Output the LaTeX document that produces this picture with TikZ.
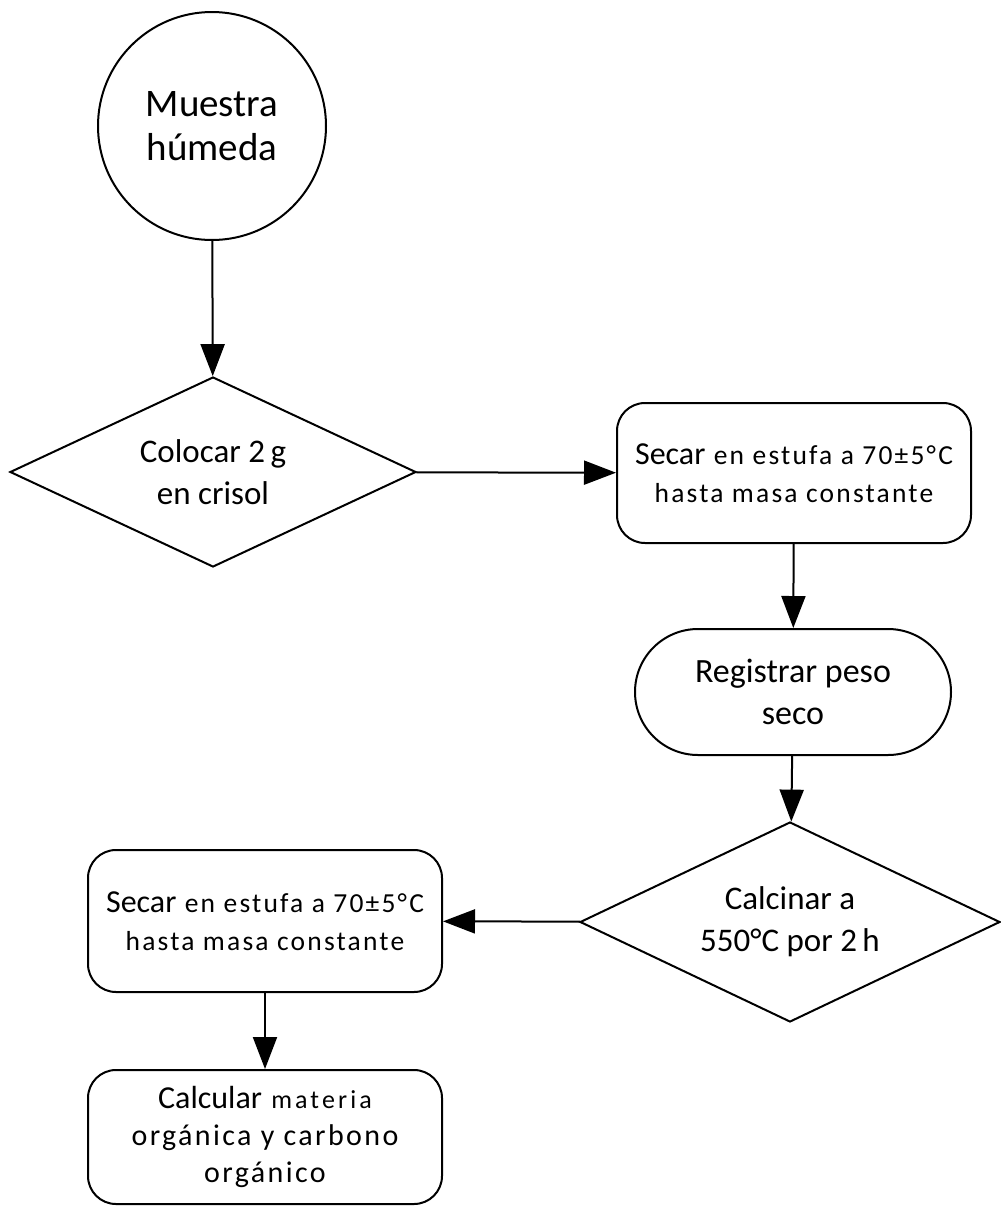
\documentclass[tikz,border=0pt]{standalone}
\usepackage{fontspec}
\setmainfont{Carlito}
\newfontfamily\wide[LetterSpace=8]{Carlito}
\usetikzlibrary{shapes.geometric,shapes.misc,arrows.meta}

\tikzset{
  stroke/.style={line width=2pt, draw=black},
  flow/.style={stroke, -{Triangle[length=32pt,width=24pt]}},
  startnode/.style={circle, stroke, minimum size=228pt, inner sep=0pt, align=center,
    font=\fontsize{39}{44}\selectfont},
  decision/.style={diamond, aspect=2.1, stroke, inner sep=0pt, align=center,
    font=\fontsize{33}{42}\selectfont},
  procbox/.style={rectangle, rounded corners=28pt, stroke, inner sep=0pt, align=center,
    minimum width=354pt, font=\wide\fontsize{27.5}{38}\selectfont},
  termbox/.style={rounded rectangle, stroke, inner sep=0pt, align=center,
    font=\fontsize{34}{42}\selectfont}
}
\newcommand{\lead}[1]{{\fontsize{32}{38}\selectfont\addfontfeature{LetterSpace=0}#1}}

\begin{document}
\begin{tikzpicture}[x=1pt, y=-1pt]
  \useasboundingbox[fill=white] (0,0) rectangle (1001,1211);

  % nodes of the procedure
  \node[startnode] (muestra) at (212,126) {Muestra\\húmeda};
  \node[decision, minimum width=406pt, minimum height=190pt] (colocar) at (213,472)
    {Colocar 2\,g\\en crisol};
  \node[procbox, minimum height=140pt] (secar1) at (794,473)
    {\lead{Secar} en estufa a 70±5°C\\hasta masa constante};
  \node[termbox, minimum width=316pt, minimum height=126pt] (registrar) at (793,692)
    {Registrar peso\\seco};
  \node[decision, minimum width=420pt, minimum height=200pt] (calcinar) at (790,922)
    {Calcinar a\\550°C por 2\,h};
  \node[procbox, minimum height=142pt] (secar2) at (265,921)
    {\lead{Secar} en estufa a 70±5°C\\hasta masa constante};
  \node[procbox, minimum height=134pt, font=\wide\fontsize{30}{37}\selectfont] (calcular) at (265,1137)
    {{\fontsize{32}{37}\selectfont\addfontfeature{LetterSpace=0}Calcular} {\fontsize{26}{37}\selectfont\addfontfeature{LetterSpace=12}materia}\\orgánica y carbono\\orgánico};

  % connectors
  \draw[flow] (muestra) -- (colocar);
  \draw[flow] (colocar) -- (secar1);
  \draw[flow] (secar1) -- (registrar);
  \draw[flow] (registrar) -- (calcinar);
  \draw[flow] (calcinar) -- (secar2);
  \draw[flow] (secar2) -- (calcular);
\end{tikzpicture}
\end{document}
